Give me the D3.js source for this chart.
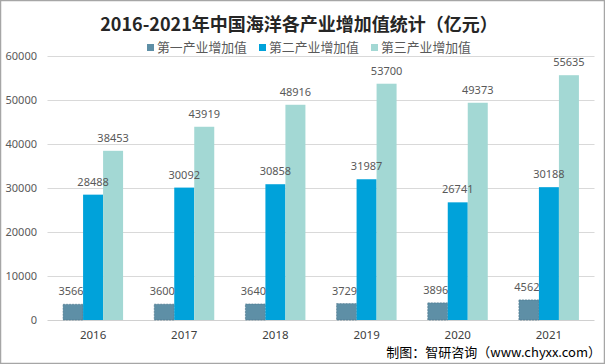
<!DOCTYPE html>
<html><head><meta charset="utf-8">
<script src="https://cdn.jsdelivr.net/npm/d3@7/dist/d3.min.js"></script>
<style>body{margin:0;background:#fff}svg{display:block}</style>
</head><body>
<script>
const years = ["2016","2017","2018","2019","2020","2021"];
const seriesNames = ["第一产业增加值","第二产业增加值","第三产业增加值"];
const primary = [3566,3600,3640,3729,3896,4562];
const secondary = [28488,30092,30858,31987,26741,30188];
const tertiary = [38453,43919,48916,53700,49373,55635];
const yTicks = [0,10000,20000,30000,40000,50000,60000];
const colors = ["#5e8fa6","#00a2da","#a3d8d4"];
const seriesData = [primary, secondary, tertiary];

const W=605,H=364;
const svg=d3.select("body").append("svg").attr("width",W).attr("height",H);
svg.append("rect").attr("x",0.5).attr("y",0.5).attr("width",W-1).attr("height",H-1)
  .attr("fill","#fff").attr("stroke","#a6a6a6").attr("stroke-width",1.5);

const font="'Noto Sans CJK SC','Microsoft YaHei',sans-serif";
svg.append("text").attr("x",299).attr("y",31).attr("text-anchor","middle")
  .attr("font-family",font).attr("font-weight","bold").attr("font-size",18)
  .attr("fill","#262626").text("2016-2021年中国海洋各产业增加值统计（亿元）");

const legX=[147,259,371];
seriesNames.forEach((n,i)=>{
  svg.append("rect").attr("x",legX[i]).attr("y",44).attr("width",7).attr("height",7).attr("fill",colors[i]);
  const t=svg.append("text").attr("x",legX[i]+10).attr("y",52).attr("font-family",font).attr("font-size",14)
    .attr("fill","#595959").text(n);
  const w=t.node().getComputedTextLength();
  if(w>0) t.attr("font-size",14*90/w);
});

const x=d3.scaleBand().domain(years).range([47.5,594.5]).padding(0);
const y=d3.scaleLinear().domain([0,60000]).range([320,56]);
const inner=d3.scaleBand().domain([0,1,2]).range([0,60]);

const grid=svg.append("g");
yTicks.forEach(t=>{
  grid.append("line").attr("x1",47.5).attr("x2",594.5).attr("y1",Math.round(y(t))+0.5).attr("y2",Math.round(y(t))+0.5)
    .attr("stroke",t===0?"#d0d0d0":"#d9d9d9").attr("stroke-width",1);
});
const yAxis=d3.axisLeft(y).tickValues(yTicks).tickSize(0).tickPadding(0).tickFormat(d3.format("d"));
const ya=svg.append("g").attr("transform","translate(37,0)").call(yAxis);
ya.select(".domain").remove();
ya.selectAll("text").attr("font-family","'Microsoft YaHei','Noto Sans',sans-serif").attr("font-size",11).attr("fill","#595959");

const xAxis=d3.axisBottom(x).tickSize(0).tickPadding(0);
const xa=svg.append("g").attr("transform","translate(0,331)").call(xAxis);
xa.select(".domain").remove();
xa.selectAll("text").attr("font-family","'Microsoft YaHei','Noto Sans',sans-serif").attr("font-size",11.5).attr("fill","#404040");

const barX=(i,si)=>x(years[i])+(x.bandwidth()-60)/2+inner(si);
const barsG=svg.append("g"), labelsG=svg.append("g");
seriesData.forEach((arr,si)=>{
  barsG.append("g").selectAll("rect").data(arr).join("rect")
    .attr("x",(d,i)=>barX(i,si))
    .attr("y",d=>y(d)).attr("width",inner.bandwidth()).attr("height",d=>y(0)-y(d))
    .attr("fill",colors[si])
    .attr("stroke",si===0?"#4a7389":"none").attr("stroke-dasharray",si===0?"2,1":null).attr("stroke-width",si===0?0.6:0);
  labelsG.append("g").selectAll("text").data(arr).join("text")
    .attr("x",(d,i)=>barX(i,si)+inner.bandwidth()/2 - (si===0?2:0))
    .attr("y",d=>y(d)-9).attr("text-anchor","middle")
    .attr("font-family","'Microsoft YaHei','Noto Sans',sans-serif").attr("font-size",11).attr("fill","#595959")
    .text(d=>d);
});

svg.append("text").attr("x",601).attr("y",357).attr("text-anchor","end")
  .attr("font-family",font).attr("font-size",13).attr("fill","#000").text("制图：智研咨询（www.chyxx.com）");
</script>
</body></html>
